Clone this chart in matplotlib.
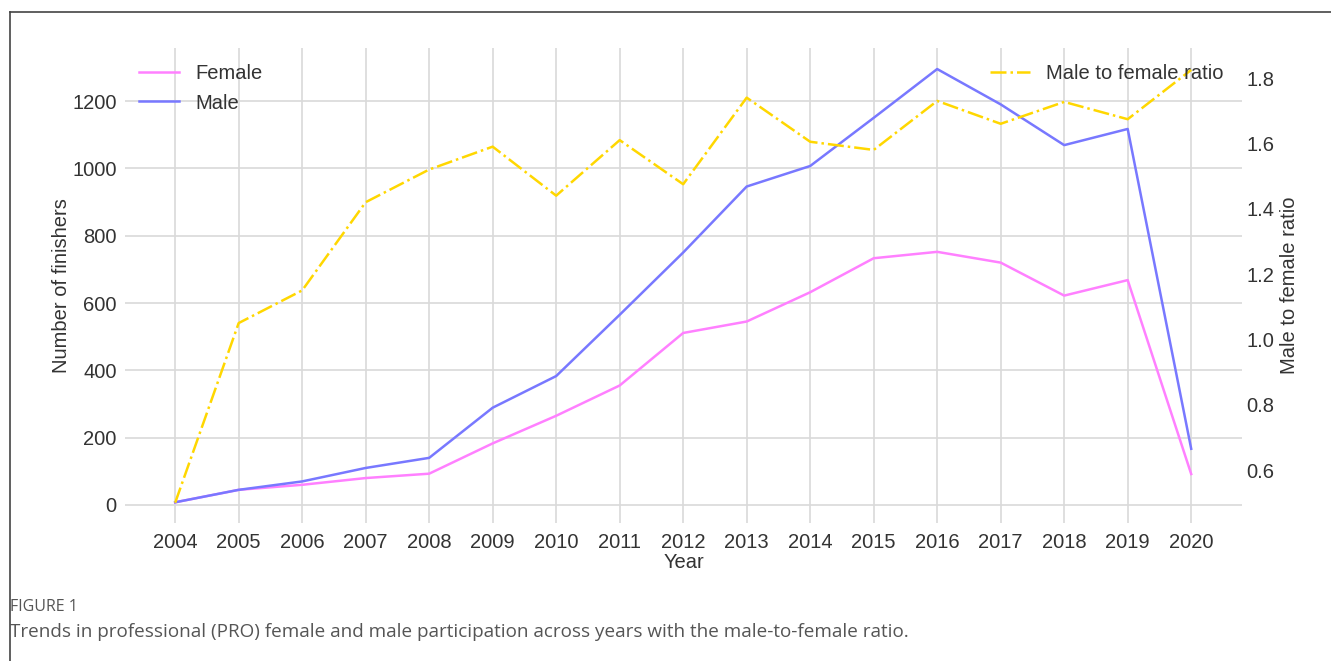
import matplotlib
matplotlib.use("Agg")
import matplotlib.pyplot as plt
from matplotlib.lines import Line2D

years = list(range(2004, 2021))
female = [8, 45, 60, 80, 93, 183, 265, 355, 511, 545, 632, 733, 752, 720, 622, 668, 92]
male = [8, 45, 70, 110, 140, 289, 383, 565, 750, 946, 1007, 1150, 1295, 1190, 1069, 1117, 167]
ratio = [0.50, 1.05, 1.15, 1.42, 1.52, 1.59, 1.44, 1.61, 1.475, 1.74, 1.605, 1.58, 1.73, 1.66, 1.727, 1.674, 1.825]

plt.rcParams['font.family'] = ['Liberation Sans', 'DejaVu Sans']

fig = plt.figure(figsize=(13.31, 6.61), dpi=100)
W, H = 1331, 661

# outer frame (top and left edges)
fig.add_artist(Line2D([10 / W, 1], [1 - 12 / H, 1 - 12 / H], color='#444444', lw=1.2))
fig.add_artist(Line2D([10 / W, 10 / W], [0, 1 - 12 / H], color='#444444', lw=1.2))

ax = fig.add_axes([125 / W, 1 - 523 / H, (1242 - 125) / W, (523 - 48) / H])
ax2 = ax.twinx()

c_f = '#ff80ff'
c_m = '#7878ff'
c_r = '#ffd700'
fs = 14.5

lf, = ax.plot(years, female, color=c_f, lw=1.8, label='Female')
lm, = ax.plot(years, male, color=c_m, lw=1.8, label='Male')
lr, = ax2.plot(years, ratio, color=c_r, lw=1.8, ls='-.', label='Male to female ratio')

ax.set_xlim(2003.21, 2020.8)
ax.set_ylim(-53.5, 1357.5)
ax2.set_ylim(0.438, 1.892)
ax.set_xticks(years)
ax.set_yticks([0, 200, 400, 600, 800, 1000, 1200])
ax2.set_yticks([0.6, 0.8, 1.0, 1.2, 1.4, 1.6, 1.8])

ax.grid(True, color='#d9d9d9', lw=1.2)
ax.set_axisbelow(True)
for a in (ax, ax2):
    for s in a.spines.values():
        s.set_visible(False)
    a.tick_params(length=0, labelsize=fs, colors='#333333', pad=6)
ax.tick_params(axis='x', pad=7)
ax2.tick_params(pad=3)

ax.set_xlabel('Year', fontsize=fs, color='#333333', labelpad=1)
ax.set_ylabel('Number of finishers', fontsize=fs, color='#333333', labelpad=1)
ax2.set_ylabel('Male to female ratio', fontsize=fs, color='#333333', labelpad=4)

leg1 = ax.legend(handles=[lf, lm], loc='upper left', frameon=False, fontsize=fs,
                 bbox_to_anchor=(0.0, 0.995), handlelength=2.0, handletextpad=0.8,
                 borderpad=0.2, labelspacing=0.5)
leg2 = ax2.legend(handles=[lr], loc='upper right', frameon=False, fontsize=fs,
                  bbox_to_anchor=(0.996, 0.995), handlelength=2.0, handletextpad=0.8,
                  borderpad=0.2)
for t in leg1.get_texts() + leg2.get_texts():
    t.set_color('#333333')

fig.text(10 / W, 1 - 607 / H, 'FIGURE 1', fontsize=11.5, color='#555555',
         family=['Open Sans', 'DejaVu Sans'], va='center')
fig.text(10 / W, 1 - 632 / H,
         'Trends in professional (PRO) female and male participation across years with the male-to-female ratio.',
         fontsize=13.6, color='#555555', family=['Open Sans', 'DejaVu Sans'], va='center')

fig.savefig('out.png', dpi=100)
